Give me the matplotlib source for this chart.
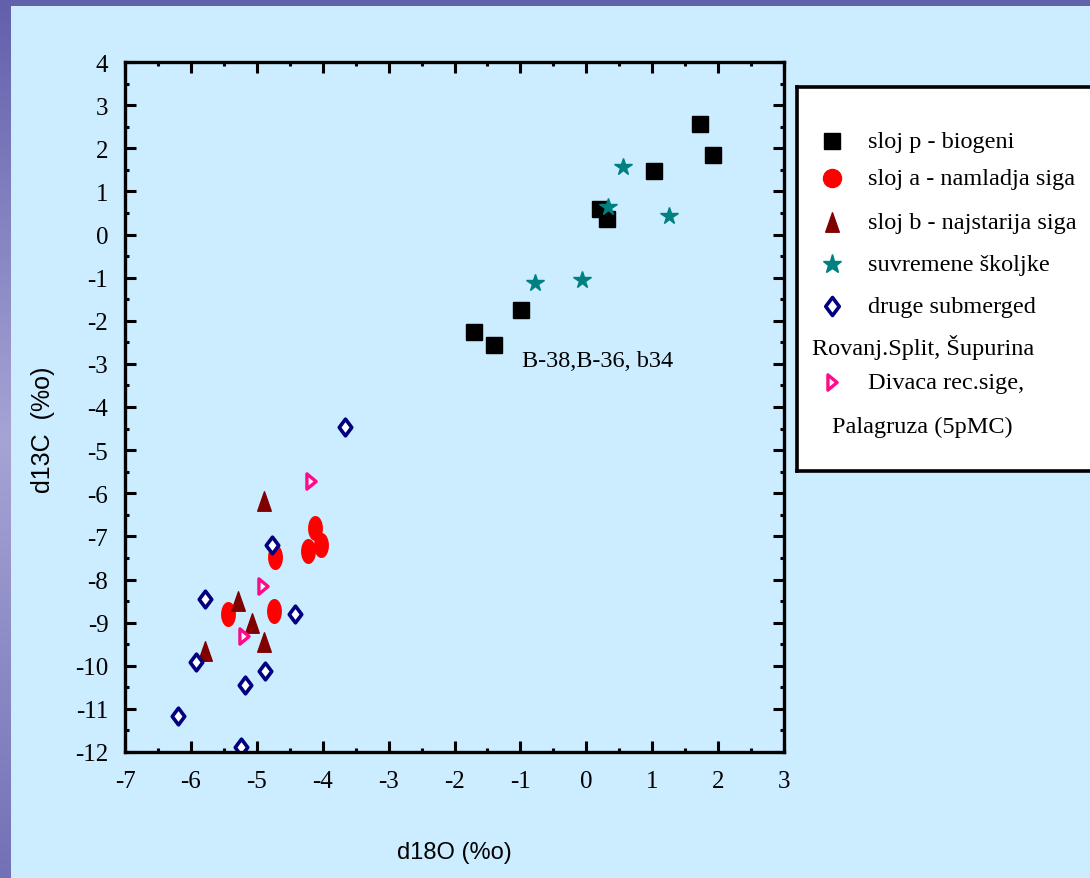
import numpy as np
import matplotlib
matplotlib.use('Agg')
matplotlib.rcParams['axes.unicode_minus'] = False
import matplotlib.pyplot as plt
from matplotlib.path import Path
from matplotlib.lines import Line2D

# ---------------------------------------------------------------------------
# data
# ---------------------------------------------------------------------------
sloj_p_x = [1.73, 1.93, 1.02, 0.21, 0.32, -0.99, -1.70, -1.40]
sloj_p_y = [2.56, 1.84, 1.47, 0.58, 0.35, -1.74, -2.26, -2.56]

sloj_a_x = [-4.12, -4.03, -4.22, -4.73, -4.74, -5.44]
sloj_a_y = [-6.81, -7.19, -7.35, -7.47, -8.72, -8.81]

sloj_b_x = [-4.89, -5.29, -5.08, -4.89, -5.79]
sloj_b_y = [-6.19, -8.51, -9.02, -9.45, -9.65]

skoljke_x = [0.55, 0.33, 1.25, -0.78, -0.06]
skoljke_y = [1.56, 0.63, 0.42, -1.12, -1.05]

druge_x = [-3.66, -4.77, -5.78, -4.42, -5.93, -4.88, -5.18, -6.19, -5.24]
druge_y = [-4.47, -7.21, -8.46, -8.79, -9.91, -10.12, -10.44, -11.16, -11.88]

divaca_x = [-4.18, -4.91, -5.20]
divaca_y = [-5.72, -8.16, -9.30]

labels = ['sloj p - biogeni', 'sloj a - namladja siga', 'sloj b - najstarija siga',
          'suvremene školjke', 'druge submerged', 'Divaca rec.sige,']
extra_labels = ['Rovanj.Split, Šupurina', 'Palagruza (5pMC)']
note_text = 'B-38,B-36, b34'

x_ticks = list(range(-7, 4))
y_ticks = list(range(-12, 5))

# ---------------------------------------------------------------------------
# markers / styles
# ---------------------------------------------------------------------------
BG = '#CCECFF'
t = np.linspace(0, 2 * np.pi, 40)
ellipse = Path(np.column_stack([0.57 * np.cos(t), np.sin(t)]), closed=True)
tri_up = Path([(0, 1), (-0.7, -1), (0.7, -1), (0, 1)], closed=True)
diamond = Path([(0, 1), (0.75, 0), (0, -1), (-0.75, 0), (0, 1)], closed=True)
tri_right = Path([(0.6, 0), (-0.6, 1), (-0.6, -1), (0.6, 0)], closed=True)

serif = ['Liberation Serif', 'DejaVu Serif']
sans = ['Liberation Sans', 'DejaVu Sans']
TXT = 17.5

fig = plt.figure(figsize=(10.9, 8.79), dpi=100, facecolor=BG)

# purple frame of the slide (top band + left gradient band)
band_top = fig.add_axes([0, 1 - 7 / 879, 1, 7 / 879])
band_top.axis('off')
band_top.add_patch(plt.Rectangle((0, 0), 1, 1, color='#6262AC', transform=band_top.transAxes))
band_left = fig.add_axes([0, 0, 11 / 1090, 1])
grad = np.interp(np.linspace(0, 1, 200), [0, 0.5, 1], [0, 1, 0.25])
c0 = np.array([0x62, 0x60, 0xAC]) / 255
c1 = np.array([0xA6, 0xA4, 0xD4]) / 255
img = c0[None, :] + grad[:, None] * (c1 - c0)[None, :]
band_left.imshow(img[:, None, :], aspect='auto', extent=(0, 1, 1, 0))
band_left.axis('off')

# ---------------------------------------------------------------------------
# main scatter axes
# ---------------------------------------------------------------------------
ax = fig.add_axes([125 / 1090, 1 - 753 / 879, 659 / 1090, 690 / 879])
ax.set_facecolor(BG)

ax.plot(sloj_p_x, sloj_p_y, ls='none', marker='s', ms=11.5, color='black')
ax.plot(sloj_a_x, sloj_a_y, ls='none', marker=ellipse, ms=17, color='red')
ax.plot(sloj_b_x, sloj_b_y, ls='none', marker=tri_up, ms=14, color='#800000')
ax.plot(skoljke_x, skoljke_y, ls='none', marker='*', ms=13, color='#008080')
ax.plot(druge_x, druge_y, ls='none', marker=diamond, ms=12, color='#000080',
        mfc='white', mew=2.6)
ax.plot(divaca_x, divaca_y, ls='none', marker=tri_right, ms=11, color='#FF0A8C',
        mfc='white', mew=2.4)

ax.text(-0.97, -2.92, note_text, fontsize=TXT, family=serif, va='center', ha='left')

ax.set_xlim(-7, 3)
ax.set_ylim(-12, 4)
ax.set_xticks(x_ticks)
ax.set_yticks(y_ticks)
ax.set_xticks(np.arange(-6.5, 3, 1), minor=True)
ax.set_yticks(np.arange(-11.5, 4, 1), minor=True)
ax.tick_params(which='both', direction='in', top=True, right=True, width=2.2)
ax.tick_params(which='major', length=8)
ax.tick_params(which='minor', length=3)
ax.tick_params(axis='y', which='major', labelsize=18, pad=12)
ax.tick_params(axis='x', which='major', labelsize=18, pad=13)
for lab in ax.get_xticklabels() + ax.get_yticklabels():
    lab.set_family(serif)
for sp in ax.spines.values():
    sp.set_linewidth(2.4)

ax.set_xlabel('d18O (%o)', fontsize=17, family=sans)
ax.set_ylabel('d13C  (%o)', fontsize=18, family=sans)
ax.xaxis.set_label_coords(0.50, -0.129)
ax.yaxis.set_label_coords(-0.106, 0.468)

# ---------------------------------------------------------------------------
# legend box (runs off the right edge like in the slide)
# ---------------------------------------------------------------------------
lg = fig.add_axes([797 / 1090, 1 - 472 / 879, 310 / 1090, 384 / 879])
lg.set_facecolor('white')
lg.set_xlim(0, 310)
lg.set_ylim(384, 0)
lg.set_xticks([])
lg.set_yticks([])
for sp in lg.spines.values():
    sp.set_linewidth(2.6)

handles = [
    dict(marker='s', ms=12, color='black'),
    dict(marker='o', ms=13, color='red'),
    dict(marker=tri_up, ms=14, color='#800000'),
    dict(marker='*', ms=14, color='#008080'),
    dict(marker=diamond, ms=13, color='#000080', mfc='white', mew=2.6),
    dict(marker=tri_right, ms=11, color='#FF0A8C', mfc='white', mew=2.4),
]
rows = [54, 91, 135, 177, 219, 295]
for y, h, lab in zip(rows, handles, labels):
    lg.add_line(Line2D([35], [y], ls='none', **h))
    lg.text(71, y, lab, fontsize=TXT, family=serif, va='center', ha='left')
lg.text(15, 259, extra_labels[0], fontsize=TXT, family=serif, va='center', ha='left')
lg.text(35, 339, extra_labels[1], fontsize=TXT, family=serif, va='center', ha='left')

fig.savefig('out.png', dpi=100, facecolor=BG)
